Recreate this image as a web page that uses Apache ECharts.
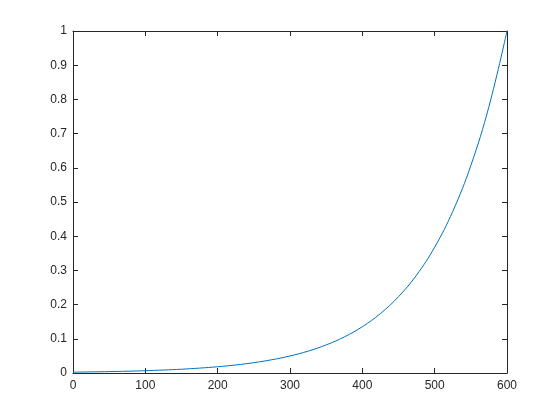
<!DOCTYPE html>
<html>
<head>
<meta charset="utf-8">
<script src="https://cdn.jsdelivr.net/npm/echarts@6/dist/echarts.min.js"></script>
<style>html,body{margin:0;padding:0;background:#fff}#c{width:560px;height:420px}</style>
</head>
<body>
<div id="c"></div>
<script>
var xValues = [0,25,50,75,100,125,150,175,200,225,250,275,300,325,350,375,400,425,450,475,500,525,550,575,600];
var yValues = [0.0025,0.0032,0.0041,0.0052,0.0067,0.0087,0.0111,0.0143,0.0183,0.0235,0.0302,0.0388,0.0498,0.0639,0.0821,0.1054,0.1353,0.1738,0.2231,0.2865,0.3679,0.4724,0.6065,0.7788,1.0];
var xTicks = [0,100,200,300,400,500,600];
var yTicks = [0,0.1,0.2,0.3,0.4,0.5,0.6,0.7,0.8,0.9,1];

var data = xValues.map(function(x,i){return [x,yValues[i]];});
var axisCol = '#262626';
var font = 'Liberation Sans, Arial, sans-serif';
function mkX(pos, show){
  return {type:'value', position:pos, min:xTicks[0], max:xTicks[xTicks.length-1], interval:100,
    axisLine:{show:true, onZero:false, lineStyle:{color:axisCol,width:1}},
    axisTick:{show:true, inside:true, length:5, lineStyle:{color:axisCol}},
    axisLabel:{show:show, color:axisCol, fontSize:12, fontFamily:font, margin:7},
    splitLine:{show:false}};
}
function mkY(pos, show){
  return {type:'value', position:pos, min:yTicks[0], max:yTicks[yTicks.length-1], interval:0.1,
    axisLine:{show:true, onZero:false, lineStyle:{color:axisCol,width:1}},
    axisTick:{show:true, inside:true, length:5, lineStyle:{color:axisCol}},
    axisLabel:{show:show, color:axisCol, fontSize:12, fontFamily:font, margin:6},
    splitLine:{show:false}};
}
var chart = echarts.init(document.getElementById('c'), null, {renderer:'canvas'});
chart.setOption({
  animation:false,
  backgroundColor:'#fff',
  grid:{left:73, right:53, top:31, bottom:47},
  xAxis:[mkX('bottom',true), mkX('top',false)],
  yAxis:[mkY('left',true), mkY('right',false)],
  series:[{type:'line', data:data, xAxisIndex:0, yAxisIndex:0, smooth:0.4, showSymbol:false,
    lineStyle:{color:'#0072BD', width:1}}]
});
</script>
</body>
</html>
